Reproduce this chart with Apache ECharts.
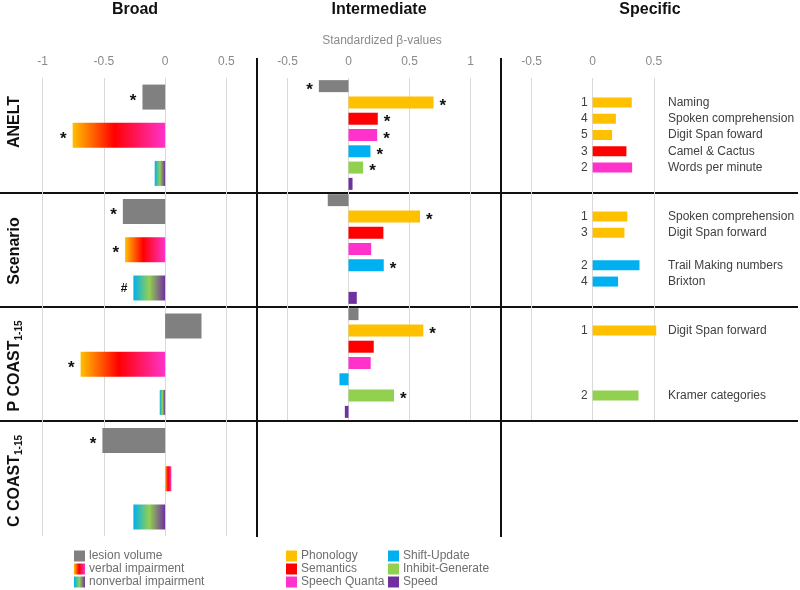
<!DOCTYPE html>
<html><head><meta charset="utf-8">
<script src="https://cdn.jsdelivr.net/npm/echarts@6/dist/echarts.min.js"></script>
<style>html,body{margin:0;padding:0;background:#fff}#c{width:800px;height:590px}</style>
</head><body><div id="c"></div>
<script>
// ---------------- DATA ----------------
const rowNames = ['ANELT', 'Scenario', 'P COAST', 'C COAST'];
const panelTitles = ['Broad', 'Intermediate', 'Specific'];
const axisTitle = 'Standardized \u03b2-values';
const broadTicks = [-1, -0.5, 0, 0.5];
const interTicks = [-0.5, 0, 0.5, 1];
const specificTicks = [-0.5, 0, 0.5];

// Broad level (rows: ANELT, Scenario, P COAST, C COAST)
const broadNames = ['lesion volume', 'verbal impairment', 'nonverbal impairment'];
const broadLesion    = [-0.185, -0.345, 0.297, -0.512];
const broadVerbal    = [-0.755, -0.327, -0.690, 0.051];
const broadNonverbal = [-0.085, -0.259, -0.044, -0.259];
const broadLesionSig    = ['*', '*', '', '*'];
const broadVerbalSig    = ['*', '*', '*', ''];
const broadNonverbalSig = ['', '#', '', ''];

// Intermediate level (rows: ANELT, Scenario, P COAST)
const interNames = ['lesion volume', 'Phonology', 'Semantics', 'Speech Quanta', 'Shift-Update', 'Inhibit-Generate', 'Speed'];
const interLesion    = [-0.243, -0.170, 0.082];
const interPhonology = [0.697, 0.586, 0.613];
const interSemantics = [0.240, 0.286, 0.207];
const interSpeechQ   = [0.235, 0.186, 0.182];
const interShift     = [0.180, 0.289, -0.074];
const interInhibit   = [0.120, null, 0.373];
const interSpeed     = [0.033, 0.068, -0.030];
const interLesionSig    = ['*', '', ''];
const interPhonologySig = ['*', '*', '*'];
const interSemanticsSig = ['*', '', ''];
const interSpeechQSig   = ['*', '', ''];
const interShiftSig     = ['*', '*', ''];
const interInhibitSig   = ['*', '', '*'];
const interSpeedSig     = ['', '', ''];

// Specific level (7 slots per row, aligned with intermediate slots)
const specificTests = [
  ['', 'Naming', 'Spoken comprehension', 'Digit Span foward', 'Camel & Cactus', 'Words per minute', ''],
  ['', 'Spoken comprehension', 'Digit Span forward', '', 'Trail Making numbers', 'Brixton', ''],
  ['', 'Digit Span forward', '', '', '', 'Kramer categories', '']
];
const specificValues = [
  [null, 0.320, 0.190, 0.159, 0.276, 0.323, null],
  [null, 0.284, 0.260, null, 0.383, 0.208, null],
  [null, 0.520, null, null, null, 0.375, null]
];
const specificRanks = [
  ['', '1', '4', '5', '3', '2', ''],
  ['', '1', '3', '', '2', '4', ''],
  ['', '1', '', '', '', '2', '']
];
const specificDomains = [
  [null, 'Phonology', 'Phonology', 'Phonology', 'Semantics', 'Speech Quanta', null],
  [null, 'Phonology', 'Phonology', null, 'Shift-Update', 'Shift-Update', null],
  [null, 'Phonology', null, null, null, 'Inhibit-Generate', null]
];

// ---------------- STYLE ----------------
const FONT = 'Liberation Sans, Arial, Helvetica, sans-serif';
const colors = {
  'lesion volume': '#808080',
  'Phonology': '#FFC000',
  'Semantics': '#FF0000',
  'Speech Quanta': '#FF33CC',
  'Shift-Update': '#00B0F0',
  'Inhibit-Generate': '#92D050',
  'Speed': '#7030A0'
};
const LG = echarts.graphic.LinearGradient;
const verbalGrad = new LG(0, 0, 1, 0, [
  {offset: 0, color: '#FFC000'}, {offset: 0.45, color: '#FF0000'}, {offset: 1, color: '#FF33CC'}]);
const nonverbalGrad = new LG(0, 0, 1, 0, [
  {offset: 0, color: '#00B0F0'}, {offset: 0.5, color: '#92D050'}, {offset: 1, color: '#7030A0'}]);

function sigLabel(s, v) {
  if (!s) return {show: false};
  const star = s === '*';
  return {
    show: true, formatter: s, position: v < 0 ? 'left' : 'right', distance: 6,
    color: '#111', fontFamily: FONT, fontWeight: 'bold',
    fontSize: star ? 17 : 12, offset: star ? [0, 4] : [0, 1]
  };
}
function slotData(values, sig, perRow, k, nRows) {
  const arr = new Array(perRow * nRows).fill(null);
  values.forEach((v, r) => {
    if (v == null) return;
    arr[r * perRow + k] = {value: v, label: sigLabel(sig[r], v)};
  });
  return arr;
}

const broadCats = [];
for (let r = 0; r < 4; r++) for (let k = 0; k < 3; k++) broadCats.push(r + '-' + k);
const interCats = [];
for (let r = 0; r < 3; r++) for (let k = 0; k < 7; k++) interCats.push(r + '-' + k);

const specRankCats = [].concat(...specificRanks);
const specTestCats = [].concat(...specificTests);
const specData = [];
specificValues.forEach((row, r) => row.forEach((v, k) => {
  specData.push(v == null ? null : {value: v, itemStyle: {color: colors[specificDomains[r][k]]}});
}));

const gridLine = {show: true, lineStyle: {color: '#d9d9d9', width: 1}};
function xAx(gi, min, max, ticks) {
  return {
    type: 'value', gridIndex: gi, min: min, max: max, position: 'top',
    axisLine: {show: false}, axisTick: {show: false, customValues: ticks},
    axisLabel: {customValues: ticks, color: '#8a8a8a', fontSize: 12, fontFamily: FONT, margin: 10},
    splitLine: gridLine
  };
}
function catAx(gi, data, extra) {
  return Object.assign({
    type: 'category', gridIndex: gi, data: data, inverse: true,
    axisLine: {show: false}, axisTick: {show: false},
    axisLabel: {show: false}, splitLine: {show: false}
  }, extra || {});
}

const broadSeriesData = [
  [broadLesion, broadLesionSig, colors['lesion volume']],
  [broadVerbal, broadVerbalSig, verbalGrad],
  [broadNonverbal, broadNonverbalSig, nonverbalGrad]
];
const interSeriesData = [
  [interLesion, interLesionSig], [interPhonology, interPhonologySig], [interSemantics, interSemanticsSig],
  [interSpeechQ, interSpeechQSig], [interShift, interShiftSig], [interInhibit, interInhibitSig], [interSpeed, interSpeedSig]
];

const series = [];
broadSeriesData.forEach((d, k) => series.push({
  type: 'bar', name: broadNames[k], xAxisIndex: 0, yAxisIndex: 0,
  barWidth: 25, barGap: '-100%', itemStyle: {color: d[2]}, z: 3,
  data: slotData(d[0], d[1], 3, k, 4)
}));
interSeriesData.forEach((d, k) => series.push({
  type: 'bar', name: interNames[k], xAxisIndex: 1, yAxisIndex: 1,
  barWidth: 12, barGap: '-100%', itemStyle: {color: colors[interNames[k]]}, z: 3,
  data: slotData(d[0], d[1], 7, k, 3)
}));
series.push({
  type: 'bar', name: 'specific', xAxisIndex: 2, yAxisIndex: 2,
  barWidth: 10, z: 3, data: specData
});

// specific panel geometry
const SPEC_MIN = -0.75, SPEC_MAX = 0.6, SPEC_W = 165;
const zeroOffset = -((0 - SPEC_MIN) / (SPEC_MAX - SPEC_MIN)) * SPEC_W; // places rank axis at x = 0

const labelStyle = {fontFamily: FONT, fontSize: 12, color: '#404040'};
const rowLabelY = [122, 251, 366, 481];
const rowLabels = rowNames.map((n, i) => ({
  type: 'text', x: 15, y: rowLabelY[i], rotation: Math.PI / 2,
  style: {
    text: i >= 2 ? '{b|' + n + '}{s|1-15}' : '{b|' + n + '}',
    align: 'center', verticalAlign: 'middle',
    rich: {
      b: {fontFamily: FONT, fontSize: 16, fontWeight: 'bold', fill: '#111', lineHeight: 20, verticalAlign: 'middle'},
      s: {fontFamily: FONT, fontSize: 10, fontWeight: 'bold', fill: '#111', lineHeight: 20, padding: [8, 0, 0, 0]}
    },
    fill: '#111'
  }
}));
const black = {stroke: '#111', lineWidth: 2};
const dividers = [
  {type: 'line', shape: {x1: 257, y1: 58, x2: 257, y2: 537}, style: black},
  {type: 'line', shape: {x1: 501, y1: 58, x2: 501, y2: 537}, style: black},
  {type: 'line', shape: {x1: 0, y1: 193, x2: 798, y2: 193}, style: black},
  {type: 'line', shape: {x1: 0, y1: 307, x2: 798, y2: 307}, style: black},
  {type: 'line', shape: {x1: 0, y1: 421, x2: 798, y2: 421}, style: black}
];
const titleX = [135, 379, 650];
const titles = panelTitles.map((t, i) => ({
  type: 'text', x: titleX[i], y: 10,
  style: {text: t, fontFamily: FONT, fontSize: 16, fontWeight: 'bold', fill: '#111', align: 'center', verticalAlign: 'middle'}
}));
titles.push({type: 'text', x: 382, y: 41,
  style: {text: axisTitle, fontFamily: FONT, fontSize: 12, fill: '#8a8a8a', align: 'center', verticalAlign: 'middle'}});

function legendAt(left, data) {
  return {
    left: left, top: 550, orient: 'vertical', itemWidth: 11, itemHeight: 11, itemGap: 1,
    icon: 'rect', selectedMode: false, padding: 0, data: data,
    textStyle: {color: '#6e6e6e', fontSize: 12, fontFamily: FONT, padding: [0, 0, 0, -1]}
  };
}

const option = {
  animation: false,
  backgroundColor: '#fff',
  grid: [
    {left: 12, top: 78, width: 245, height: 458, containLabel: false, outerBoundsMode: 'none'},
    {left: 257, top: 78, width: 244, height: 342, containLabel: false, outerBoundsMode: 'none'},
    {left: 501, top: 78, width: SPEC_W, height: 342, containLabel: false, outerBoundsMode: 'none'}
  ],
  xAxis: [
    xAx(0, -1.25, 0.75, broadTicks),
    xAx(1, -0.75, 1.25, interTicks),
    xAx(2, SPEC_MIN, SPEC_MAX, specificTicks)
  ],
  yAxis: [
    catAx(0, broadCats),
    catAx(1, interCats),
    catAx(2, specRankCats, {position: 'left', offset: zeroOffset, axisLine: {show: false, onZero: false},
      axisLabel: Object.assign({show: true, interval: 0, margin: 5}, labelStyle)}),
    catAx(2, specTestCats, {position: 'right', axisLine: {show: false, onZero: false},
      axisLabel: Object.assign({show: true, interval: 0, margin: 2}, labelStyle)})
  ],
  legend: [
    legendAt(74, broadNames),
    legendAt(286, ['Phonology', 'Semantics', 'Speech Quanta']),
    legendAt(388, ['Shift-Update', 'Inhibit-Generate', 'Speed'])
  ],
  graphic: dividers.concat(titles, rowLabels),
  series: series
};
echarts.init(document.getElementById('c'), null, {renderer: 'canvas'}).setOption(option);
</script></body></html>
